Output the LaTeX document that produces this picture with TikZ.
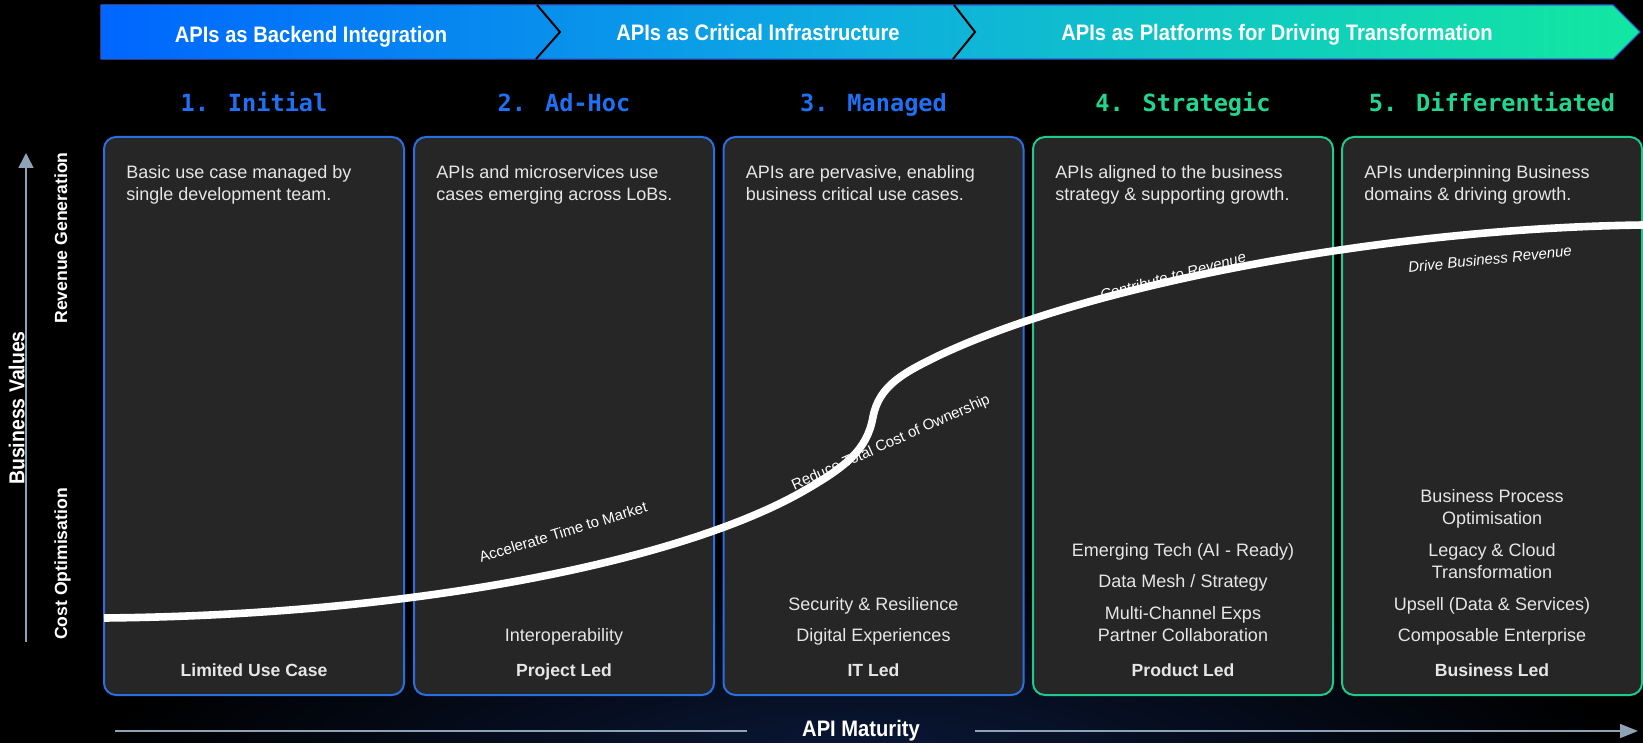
\documentclass[tikz,border=0pt]{standalone}
\usepackage{fontspec}
\setmainfont{Liberation Sans}
\newfontfamily\bandfont[FakeStretch=0.9]{Liberation Sans}
\newfontfamily\stagefont{DejaVu Sans Mono}
\usepackage{xcolor}
\usetikzlibrary{positioning,arrows.meta}

\definecolor{bandblue}{HTML}{0066FF}
\definecolor{bandteal}{HTML}{0EAEDF}
\definecolor{bandgreen}{HTML}{12E8A0}
\definecolor{bandedge}{HTML}{2F5FD6}
\definecolor{edgeblue}{HTML}{2A6FE0}
\definecolor{edgegreen}{HTML}{20C98C}
\definecolor{headblue}{HTML}{1F70F2}
\definecolor{headgreen}{HTML}{22D690}
\definecolor{boxgrey}{HTML}{262626}
\definecolor{axisgrey}{HTML}{8FA3B6}
\definecolor{glow}{HTML}{0A1838}
\definecolor{softwhite}{HTML}{E6E6E6}

\begin{document}
\begin{tikzpicture}[x=0.5pt, y=-0.5pt,
	stagebox/.style={draw=#1, line width=1pt, rounded corners=6pt, fill=boxgrey, minimum width=150pt, minimum height=279pt, inner sep=0pt},
	stagehead/.style={text=#1, font=\stagefont\bfseries\fontsize{11.8pt}{14pt}\selectfont, inner sep=0pt},
	intro/.style={text=softwhite, align=left, font=\fontsize{9pt}{11pt}\selectfont, inner sep=0pt},
	outcome/.style={text=softwhite, align=center, font=\fontsize{9pt}{11.25pt}\selectfont, inner sep=0pt},
	ledby/.style={text=softwhite, font=\bfseries\fontsize{8.8pt}{11pt}\selectfont, inner sep=0pt},
	bandtext/.style={text=white, font=\bandfont\bfseries\fontsize{11.2pt}{13pt}\selectfont, inner sep=0pt},
	notch/.style={draw=black, line width=1pt},
	sidelabel/.style={text=white, rotate=90, font=\bfseries\fontsize{8.8pt}{11pt}\selectfont, inner sep=0pt},
	axisline/.style={draw=axisgrey, line width=0.8pt},
	valuecurve/.style={draw=white, line width=3.8pt},
	curvelabel/.style={text=white, font=\fontsize{7.5pt}{9pt}\selectfont, inner sep=0pt},
	]
	\path[use as bounding box, fill=black] (0,0) rectangle (1643,743);
	\begin{scope}
		\clip (0,560) rectangle (1643,743);
		\shade[inner color=glow, outer color=black] (860,760) ellipse (760 and 200);
	\end{scope}

	\shadedraw[left color=bandblue, right color=bandgreen, middle color=bandteal, draw=bandedge, line width=0.6pt] (101,5) -- (1613,5) -- (1640,32) -- (1613,59) -- (101,59) -- cycle;
	\draw[notch] (537,5) -- (560,32) -- (536,59);
	\draw[notch] (954,5) -- (975,32) -- (953,59);
	\node[bandtext, anchor=base] (band1) at (311,43) {APIs as Backend Integration};
	\node[bandtext, anchor=base] (band2) at (758,41) {APIs as Critical Infrastructure};
	\node[bandtext, anchor=base] (band3) at (1277,41) {APIs as Platforms for Driving Transformation};

	\node[stagebox=edgeblue] (initial) at (254,416) {};
	\node[stagebox=edgeblue] (adhoc) at (564,416) {};
	\node[stagebox=edgeblue] (managed) at (873.5,416) {};
	\node[stagebox=edgegreen] (strategic) at (1183,416) {};
	\node[stagebox=edgegreen] (differentiated) at (1492,416) {};

	\node[stagehead=headblue, above=12pt of initial.north, anchor=base] (initialhead) {1. Initial};
	\node[stagehead=headblue, above=12pt of adhoc.north, anchor=base] (adhochead) {2. Ad-Hoc};
	\node[stagehead=headblue, above=12pt of managed.north, anchor=base] (managedhead) {3. Managed};
	\node[stagehead=headgreen, above=12pt of strategic.north, anchor=base] (strategichead) {4. Strategic};
	\node[stagehead=headgreen, above=12pt of differentiated.north, anchor=base] (differentiatedhead) {5. Differentiated};

	\node[intro, below right=14.4pt and 11.5pt of initial.north west] (initialintro) {Basic use case managed by\\single development team.};
	\node[intro, below right=14.4pt and 11.5pt of adhoc.north west] (adhocintro) {APIs and microservices use\\cases emerging across LoBs.};
	\node[intro, below right=14.4pt and 11.5pt of managed.north west] (managedintro) {APIs are pervasive, enabling\\business critical use cases.};
	\node[intro, below right=14.4pt and 11.5pt of strategic.north west] (strategicintro) {APIs aligned to the business\\strategy \& supporting growth.};
	\node[intro, below right=14.4pt and 11.5pt of differentiated.north west] (differentiatedintro) {APIs underpinning Business\\domains \& driving growth.};

	\node[ledby, above=10pt of initial.south, anchor=base] (initialled) {Limited Use Case};
	\node[ledby, above=10pt of adhoc.south, anchor=base] (adhocled) {Project Led};
	\node[ledby, above=10pt of managed.south, anchor=base] (managedled) {IT Led};
	\node[ledby, above=10pt of strategic.south, anchor=base] (strategicled) {Product Led};
	\node[ledby, above=10pt of differentiated.south, anchor=base] (differentiatedled) {Business Led};

	\node[outcome, above=13.6pt of adhocled.base] (adhocout) {Interoperability\strut};
	\node[outcome, above=13.6pt of managedled.base] (managedout) {Security \& Resilience\\[4.5pt]Digital Experiences\strut};
	\node[outcome, above=13.6pt of strategicled.base] (strategicout) {Emerging Tech (AI - Ready)\\[4.5pt]Data Mesh / Strategy\\[4.5pt]Multi-Channel Exps\\Partner Collaboration\strut};
	\node[outcome, above=13.6pt of differentiatedled.base] (differentiatedout) {Business Process\\Optimisation\\[4.5pt]Legacy \& Cloud\\Transformation\\[4.5pt]Upsell (Data \& Services)\\[4.5pt]Composable Enterprise\strut};

	\coordinate (vfoot) at (26,642);
	\coordinate (vtip) at (26,153);
	\draw[axisline, -{Triangle[width=7.5pt,length=7.5pt]}] (vfoot) -- (vtip);
	\node[sidelabel, font=\bandfont\bfseries\fontsize{10.8pt}{13pt}\selectfont, anchor=base] (values) at (24.5,408) {Business Values};
	\node[sidelabel, anchor=base] (revenue) at (67,238) {Revenue Generation};
	\node[sidelabel, anchor=base] (cost) at (67,564) {Cost Optimisation};

	\coordinate (hfoot) at (115,731);
	\node[bandtext, inner xsep=27.5pt] (maturity) at (861,731) {API Maturity};
	\coordinate (htip) at (1638,731);
	\draw[axisline] (hfoot) -- (maturity);
	\draw[axisline, -{Triangle[width=7pt,length=9pt]}] (maturity) -- (htip);

	\node[curvelabel, rotate=17] (ttm) at (563,532) {Accelerate Time to Market};
	\node[curvelabel, rotate=24] (tco) at (891,443) {Reduce Total Cost of Ownership};
	\node[curvelabel, rotate=15, font=\itshape\fontsize{7.5pt}{9pt}\selectfont] (contrib) at (1173,276) {Contribute to Revenue};
	\node[curvelabel, rotate=6, font=\itshape\fontsize{7.5pt}{9pt}\selectfont] (drive) at (1490,259) {Drive Business Revenue};

	\draw[valuecurve] (104,618) .. controls (420,615) and (680,560) .. (800,493)
		.. controls (846,467) and (867,450) .. (873,417)
		.. controls (879,385) and (905,372) .. (940,355)
		.. controls (1100,280) and (1400,228) .. (1643,225);
\end{tikzpicture}
\end{document}
